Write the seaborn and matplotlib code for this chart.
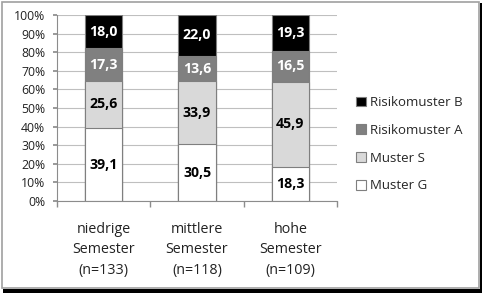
import matplotlib
matplotlib.use("Agg")
import matplotlib.pyplot as plt
import seaborn as sns
import pandas as pd
import numpy as np
from matplotlib.patches import Rectangle, Patch

categories = ["niedrige\nSemester\n(n=133)", "mittlere\nSemester\n(n=118)", "hohe\nSemester\n(n=109)"]
muster_g = [39.1, 30.5, 18.3]
muster_s = [25.6, 33.9, 45.9]
risiko_a = [17.3, 13.6, 16.5]
risiko_b = [18.0, 22.0, 19.3]
series_names = ["Muster G", "Muster S", "Risikomuster A", "Risikomuster B"]
colors = ["#ffffff", "#d9d9d9", "#808080", "#000000"]
text_colors = ["black", "black", "white", "white"]

sns.set_theme(style="white")
plt.rcParams['font.family'] = ['Open Sans', 'DejaVu Sans']

fig = plt.figure(figsize=(4.82, 2.93), dpi=100)
W, H = 482, 293
ax = fig.add_axes([57 / W, 1 - 201 / H, (337 - 57) / W, (201 - 15) / H])

series = [muster_g, muster_s, risiko_a, risiko_b]
cum = np.cumsum(np.array(series), axis=0)

# draw from the top layer down so that lower layers overlay
for i in range(3, -1, -1):
    d = pd.DataFrame({"cat": categories, "val": cum[i]})
    sns.barplot(data=d, x="cat", y="val", color=colors[i], width=0.4,
                edgecolor="#7f7f7f", linewidth=0.8, saturation=1, ax=ax,
                zorder=2)

# labels
for i in range(4):
    vals = series[i]
    for j, v in enumerate(vals):
        bottom = cum[i][j] - v
        ax.text(j, bottom + v / 2, f"{v:.1f}".replace(".", ","),
                ha="center", va="center", fontsize=10.2, fontweight="bold",
                color=text_colors[i], zorder=5)

ax.set_ylim(0, 100)
ax.set_xlim(-0.5, 2.5)
ax.set_yticks(np.arange(0, 101, 10))
ax.set_yticklabels([f"{t}%" for t in range(0, 101, 10)], fontsize=8.8, color="#222222")
ax.yaxis.grid(True, color="#bfbfbf", linewidth=0.8, zorder=0)
ax.set_axisbelow(True)
ax.set_xlabel("")
ax.set_ylabel("")
for s in ["top", "right"]:
    ax.spines[s].set_visible(False)
for s in ["left", "bottom"]:
    ax.spines[s].set_color("#8c8c8c")
    ax.spines[s].set_linewidth(0.8)
ax.tick_params(axis="y", which="major", left=True, length=3, color="#8c8c8c", pad=5.5)
ax.set_xticks([0, 1, 2])
ax.set_xticklabels(categories, fontsize=10.3, linespacing=1.5, color="#222222")
ax.tick_params(axis="x", which="major", bottom=False, pad=9)
ax.set_xticks([-0.5, 0.5, 1.5, 2.5], minor=True)
ax.tick_params(axis="x", which="minor", bottom=True, length=4, color="#8c8c8c")

# legend (reversed order)
handles = [Patch(facecolor=colors[i], edgecolor="#7f7f7f", linewidth=0.8) for i in range(3, -1, -1)]
labels = [series_names[i] for i in range(3, -1, -1)]
fig.legend(handles, labels, loc="upper left", bbox_to_anchor=(356 / W, 1 - 96 / H),
           frameon=False, fontsize=9.5, handlelength=0.75, handleheight=0.75,
           handletextpad=0.3, labelspacing=1.12, borderaxespad=0, borderpad=0)

# figure frame with shadow
fig.patches.append(Rectangle((480 / W, 0), 2 / W, 1 - 3 / H, transform=fig.transFigure,
                             facecolor="black", edgecolor="none"))
fig.patches.append(Rectangle((3 / W, 0), 1, 4 / H, transform=fig.transFigure,
                             facecolor="black", edgecolor="none"))
fig.patches.append(Rectangle((1.5 / W, 5.5 / H), 477.5 / W, 286 / H, transform=fig.transFigure,
                             facecolor="none", edgecolor="#a0a0a0", linewidth=1.2))

fig.savefig("out.png", dpi=100)
